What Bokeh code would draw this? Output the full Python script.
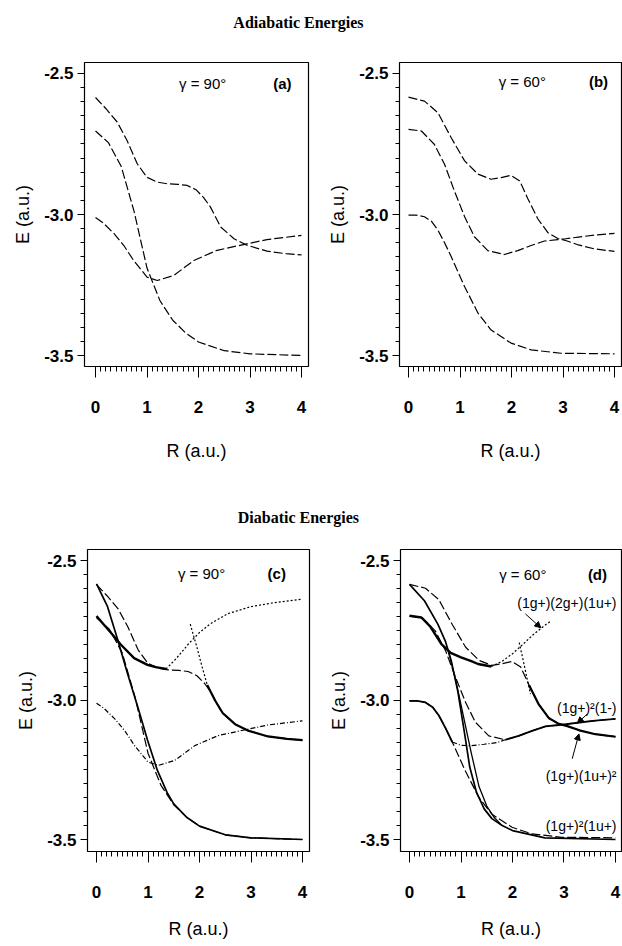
from bokeh.plotting import figure
from bokeh.models import FixedTicker, Label, Arrow, NormalHead, Range1d
from bokeh.layouts import column, row
from bokeh.embed import file_html
from bokeh.resources import INLINE

# ---------------- data ----------------
x_ticks = [0, 1, 2, 3, 4]
x_tick_labels = ["0", "1", "2", "3", "4"]
y_ticks = [-3.5, -3.0, -2.5]
y_tick_labels = ["-3.5", "-3.0", "-2.5"]

# adiabatic, gamma = 90
a90_1_r = [0, 0.2, 0.42, 0.61, 0.81, 1.0, 1.2, 1.39, 1.6, 1.78, 1.95, 2.1, 2.23, 2.43, 2.69, 2.94, 3.33, 3.7, 4.0]
a90_1_e = [-2.585, -2.624, -2.672, -2.737, -2.82, -2.868, -2.885, -2.891, -2.893, -2.897, -2.912, -2.94, -2.973, -3.044, -3.086, -3.109, -3.13, -3.139, -3.143]
a90_2_r = [0, 0.25, 0.5, 0.75, 1.0, 1.25, 1.5, 1.75, 2.0, 2.5, 3.0, 4.0]
a90_2_e = [-2.704, -2.745, -2.83, -2.99, -3.19, -3.305, -3.375, -3.42, -3.452, -3.483, -3.494, -3.5]
a90_3_r = [0, 0.15, 0.36, 0.55, 0.74, 1.0, 1.2, 1.52, 1.91, 2.36, 2.94, 3.33, 4.0]
a90_3_e = [-3.011, -3.03, -3.068, -3.11, -3.163, -3.222, -3.234, -3.216, -3.163, -3.127, -3.104, -3.089, -3.074]

# adiabatic, gamma = 60
a60_1_r = [0, 0.31, 0.57, 0.83, 1.09, 1.35, 1.6, 1.8, 1.99, 2.16, 2.32, 2.51, 2.71, 2.9, 3.05, 3.3, 3.61, 4.0]
a60_1_e = [-2.584, -2.598, -2.639, -2.728, -2.81, -2.857, -2.875, -2.869, -2.861, -2.881, -2.945, -3.015, -3.065, -3.085, -3.092, -3.108, -3.122, -3.131]
a60_2_r = [0, 0.25, 0.5, 0.7, 0.89, 1.09, 1.28, 1.54, 1.86, 2.12, 2.38, 2.64, 2.9, 3.05, 3.3, 3.61, 4.0]
a60_2_e = [-2.698, -2.704, -2.751, -2.822, -2.916, -3.008, -3.079, -3.128, -3.142, -3.128, -3.11, -3.094, -3.089, -3.086, -3.08, -3.073, -3.067]
a60_3_r = [0, 0.15, 0.31, 0.45, 0.57, 0.7, 0.83, 1.09, 1.35, 1.6, 1.99, 2.38, 2.96, 4.0]
a60_3_e = [-3.002, -3.002, -3.008, -3.025, -3.055, -3.1, -3.15, -3.256, -3.35, -3.409, -3.456, -3.48, -3.492, -3.494]

# diabatic, gamma = 90
c_s1_r = [0, 0.21, 0.41, 0.6, 0.8, 0.99, 1.18, 1.38, 1.5, 1.75, 2.0, 2.5, 3.0, 4.0]
c_s1_e = [-2.582, -2.662, -2.782, -2.903, -3.023, -3.143, -3.251, -3.335, -3.372, -3.42, -3.452, -3.483, -3.494, -3.5]
c_s2_r = [0, 0.14, 0.28, 0.47, 0.73, 0.99, 1.15, 1.35]
c_s2_e = [-2.698, -2.728, -2.758, -2.80, -2.849, -2.873, -2.881, -2.888]
c_up_r = [1.35, 1.55, 1.8, 2.0, 2.2, 2.54, 3.0, 3.45, 4.0]
c_up_e = [-2.888, -2.85, -2.795, -2.757, -2.727, -2.69, -2.664, -2.65, -2.637]
c_steep_r = [1.82, 1.95, 2.05, 2.15]
c_steep_e = [-2.727, -2.81, -2.88, -2.945]
c_s3_r = [2.15, 2.3, 2.45, 2.69, 2.94, 3.33, 3.7, 4.0]
c_s3_e = [-2.945, -3.0, -3.046, -3.086, -3.109, -3.13, -3.139, -3.143]

# diabatic, gamma = 60
d_s1_r = [0, 0.29, 0.55, 0.7, 0.81, 0.94, 1.07, 1.17, 1.3, 1.45, 1.6, 1.8, 2.0, 2.63, 4.0]
d_s1_e = [-2.584, -2.643, -2.727, -2.79, -2.858, -2.97, -3.12, -3.24, -3.33, -3.39, -3.425, -3.45, -3.468, -3.494, -3.5]
d_s1b_r = [0.75, 0.9, 1.05, 1.2, 1.35, 1.5, 1.65, 1.8]
d_s1b_e = [-2.82, -2.93, -3.06, -3.19, -3.31, -3.38, -3.422, -3.45]
d_s2_r = [0, 0.23, 0.4, 0.62, 0.8, 1.0, 1.2, 1.33, 1.59]
d_s2_e = [-2.697, -2.703, -2.735, -2.799, -2.83, -2.846, -2.86, -2.87, -2.879]
d_up_r = [1.59, 1.8, 2.0, 2.2, 2.4, 2.6, 2.75]
d_up_e = [-2.879, -2.86, -2.833, -2.80, -2.765, -2.735, -2.715]
d_steep_r = [2.13, 2.2, 2.28, 2.35]
d_steep_e = [-2.793, -2.85, -2.92, -2.978]
d_s3_r = [2.32, 2.51, 2.71, 2.9, 3.05, 3.3, 3.61, 4.0]
d_s3_e = [-2.945, -3.015, -3.065, -3.085, -3.092, -3.108, -3.122, -3.131]
d_c_left_r = [0, 0.15, 0.31, 0.45, 0.57, 0.7, 0.83]
d_c_left_e = [-3.002, -3.002, -3.008, -3.025, -3.055, -3.1, -3.15]
d_c_mid_r = [0.83, 1.0, 1.2, 1.45, 1.7, 1.86]
d_c_mid_e = [-3.15, -3.162, -3.163, -3.158, -3.152, -3.142]
d_c_right_r = [1.86, 2.12, 2.38, 2.64, 2.9, 3.05, 3.3, 3.61, 4.0]
d_c_right_e = [-3.142, -3.128, -3.11, -3.094, -3.089, -3.086, -3.08, -3.073, -3.067]

state_labels = ["(1g+)(2g+)(1u+)", "(1g+)\u00b2(1-)", "(1g+)(1u+)\u00b2", "(1g+)\u00b2(1u+)"]

# ---------------- styling ----------------
SANS = "Liberation Sans"
SERIF = "Liberation Serif"

x_minor = [round(0.1 * i, 2) for i in range(41)]
y_minor = [round(-3.5 + 0.05 * i, 3) for i in range(21)]


def make_panel(w, h, bl, br, bt, bb, xr, yr, xlab_standoff):
    p = figure(width=w, height=h, x_range=Range1d(*xr), y_range=Range1d(*yr),
               toolbar_location=None, output_backend="svg",
               min_border_left=bl, min_border_right=br,
               min_border_top=bt, min_border_bottom=bb)
    p.grid.visible = False
    p.outline_line_color = "black"
    p.outline_line_width = 1.2
    p.background_fill_color = "white"
    p.border_fill_color = "white"
    xa = p.xaxis[0]
    xa.ticker = FixedTicker(ticks=x_ticks, minor_ticks=x_minor)
    xa.major_label_overrides = dict(zip(x_ticks, x_tick_labels))
    xa.bounds = (0, 4)
    xa.major_tick_in = 0
    xa.minor_tick_in = 0
    xa.major_tick_out = 11
    xa.minor_tick_out = 5
    xa.major_label_standoff = 23
    xa.major_label_text_font = SANS
    xa.major_label_text_font_style = "bold"
    xa.major_label_text_font_size = "17px"
    xa.axis_label = "R (a.u.)"
    xa.axis_label_text_font = SANS
    xa.axis_label_text_font_style = "normal"
    xa.axis_label_text_font_size = "18px"
    xa.axis_label_standoff = xlab_standoff
    ya = p.yaxis[0]
    ya.ticker = FixedTicker(ticks=y_ticks, minor_ticks=y_minor)
    ya.major_label_overrides = dict(zip(y_ticks, y_tick_labels))
    ya.bounds = (-3.5, -2.5)
    ya.major_tick_in = 0
    ya.minor_tick_in = 0
    ya.major_tick_out = 7
    ya.minor_tick_out = 4
    ya.major_label_standoff = 4
    ya.major_label_text_font = SANS
    ya.major_label_text_font_style = "bold"
    ya.major_label_text_font_size = "17px"
    ya.axis_label = "E (a.u.)"
    ya.axis_label_text_font = SANS
    ya.axis_label_text_font_style = "normal"
    ya.axis_label_text_font_size = "18px"
    ya.axis_label_standoff = 8
    for ax in (xa, ya):
        ax.axis_line_color = "black"
        ax.major_tick_line_color = "black"
        ax.minor_tick_line_color = "black"
        ax.major_label_text_color = "black"
        ax.axis_label_text_color = "black"
    return p


def add_header(p, gamma_text, letter, gx, lx, ty):
    p.add_layout(Label(x=gx, y=ty, text=gamma_text, text_align="center", text_baseline="middle",
                       text_font=SANS, text_font_size="15px", text_color="black"))
    p.add_layout(Label(x=lx, y=ty, text=letter, text_align="center", text_baseline="middle",
                       text_font=SANS, text_font_style="bold", text_font_size="15px", text_color="black"))


DASH = "9 3"
DOT = "2 2"
DASHDOT = "5 2 1 2"


def title_fig(h, text, ty):
    t = figure(width=622, height=h, x_range=Range1d(0, 1), y_range=Range1d(0, 1),
               toolbar_location=None, output_backend="svg", x_axis_type=None, y_axis_type=None,
               min_border=0)
    t.grid.visible = False
    t.outline_line_color = None
    t.add_layout(Label(x=0.479, y=ty, text=text, text_align="center", text_baseline="middle",
                       text_font=SERIF, text_font_style="bold", text_font_size="16px", text_color="black"))
    return t


XR_A = (-0.214, 4.136)
XR_B = (-0.175, 4.136)
XR_C = (-0.175, 4.136)
XR_D = (-0.175, 4.117)
YR_1 = (-3.539, -2.461)
YR_2 = (-3.543, -2.459)

# ---------- (a) ----------
pa = make_panel(316, 435, 84, 8, 14, 117, XR_A, YR_1, 25)
for r, e in ((a90_1_r, a90_1_e), (a90_2_r, a90_2_e), (a90_3_r, a90_3_e)):
    pa.line(r, e, line_color="black", line_width=1.2, line_dash=DASH)
add_header(pa, "\u03b3 = 90\u00b0", "(a)", 2.08, 3.63, -2.535)

# ---------- (b) ----------
pb = make_panel(306, 435, 83, 1, 14, 117, XR_B, YR_1, 25)
for r, e in ((a60_1_r, a60_1_e), (a60_2_r, a60_2_e), (a60_3_r, a60_3_e)):
    pb.line(r, e, line_color="black", line_width=1.2, line_dash=DASH)
add_header(pb, "\u03b3 = 60\u00b0", "(b)", 2.21, 3.69, -2.53)

# ---------- (c) ----------
pc = make_panel(316, 408, 87, 7, 11, 95, XR_C, YR_2, 18)
pc.line(a90_1_r, a90_1_e, line_color="black", line_width=1.2, line_dash=DASH)
pc.line(a90_2_r, a90_2_e, line_color="black", line_width=1.2, line_dash=DASH)
pc.line(a90_3_r, a90_3_e, line_color="black", line_width=1.2, line_dash=DASHDOT)
pc.line(c_up_r, c_up_e, line_color="black", line_width=1.2, line_dash=DOT)
pc.line(c_steep_r, c_steep_e, line_color="black", line_width=1.2, line_dash=DOT)
pc.line(c_s1_r, c_s1_e, line_color="black", line_width=1.7)
pc.line(c_s2_r, c_s2_e, line_color="black", line_width=2.4)
pc.line(c_s3_r, c_s3_e, line_color="black", line_width=2.2)
add_header(pc, "\u03b3 = 90\u00b0", "(c)", 2.04, 3.5, -2.545)

# ---------- (d) ----------
pd = make_panel(306, 408, 84, 1, 11, 95, XR_D, YR_2, 18)
for r, e in ((a60_1_r, a60_1_e), (a60_2_r, a60_2_e), (a60_3_r, a60_3_e)):
    pd.line(r, e, line_color="black", line_width=1.2, line_dash=DASH)
pd.line(d_up_r, d_up_e, line_color="black", line_width=1.2, line_dash=DOT)
pd.line(d_steep_r, d_steep_e, line_color="black", line_width=1.2, line_dash=DOT)
pd.line(d_c_mid_r, d_c_mid_e, line_color="black", line_width=1.2, line_dash=DASHDOT)
pd.line(d_s1_r, d_s1_e, line_color="black", line_width=1.7)
pd.line(d_s1b_r, d_s1b_e, line_color="black", line_width=1.3)
pd.line(d_s2_r, d_s2_e, line_color="black", line_width=2.4)
pd.line(d_s3_r, d_s3_e, line_color="black", line_width=2.2)
pd.line(d_c_left_r, d_c_left_e, line_color="black", line_width=1.8)
pd.line(d_c_right_r, d_c_right_e, line_color="black", line_width=1.8)
add_header(pd, "\u03b3 = 60\u00b0", "(d)", 2.2, 3.65, -2.548)

label_y = [-2.652, -3.028, -3.272, -3.45]
for txt, ly in zip(state_labels, label_y):
    pd.add_layout(Label(x=4.02, y=ly, text=txt, text_align="right", text_baseline="middle",
                        text_font=SANS, text_font_size="14px", text_color="black"))
head = dict(size=6, fill_color="black", line_color="black")
pd.add_layout(Arrow(end=NormalHead(**head), x_start=2.25, y_start=-2.69, x_end=2.55, y_end=-2.74,
                    line_color="black", line_width=1))
pd.add_layout(Arrow(end=NormalHead(**head), x_start=3.45, y_start=-3.05, x_end=3.26, y_end=-3.082,
                    line_color="black", line_width=1))
pd.add_layout(Arrow(end=NormalHead(**head), x_start=3.16, y_start=-3.21, x_end=3.29, y_end=-3.121,
                    line_color="black", line_width=1))

t1 = title_fig(48, "Adiabatic Energies", 0.542)
t2 = title_fig(55, "Diabatic Energies", 0.382)

layout = column(t1, row(pa, pb), t2, row(pc, pd))
open("out.html", "w").write(file_html(layout, INLINE))
